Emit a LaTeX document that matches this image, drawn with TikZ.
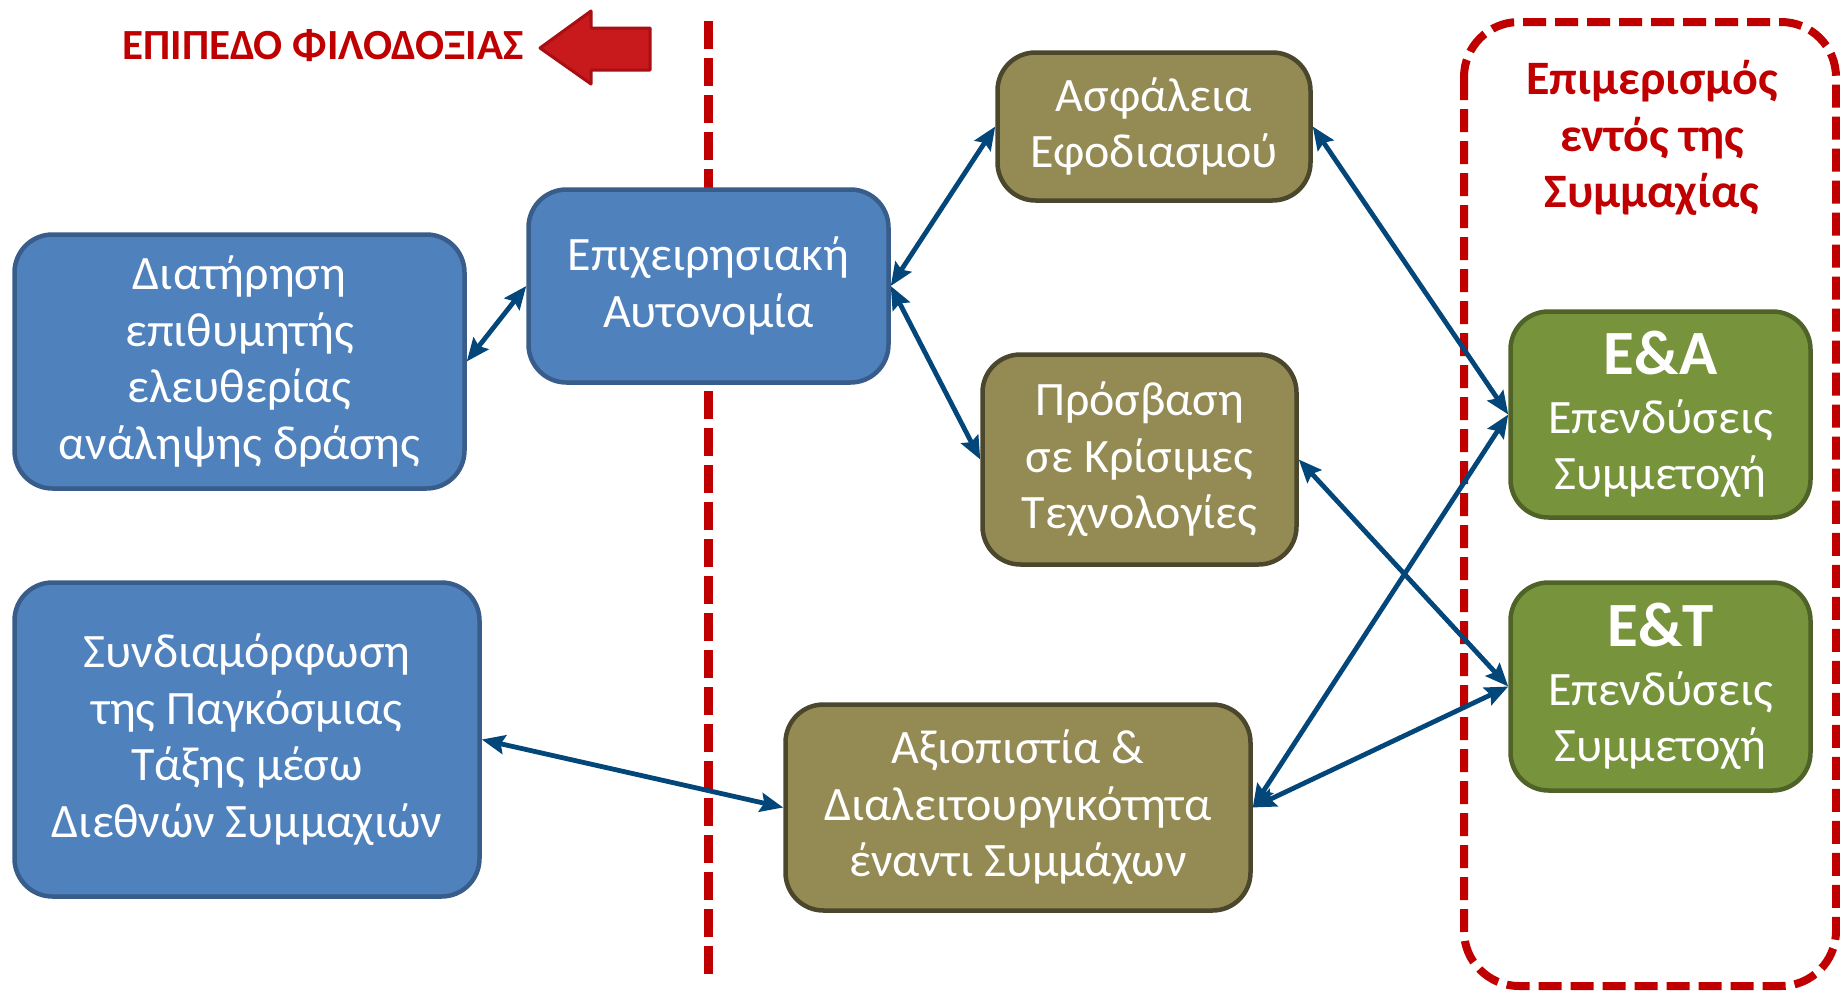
\documentclass[tikz,border=0pt]{standalone}
\usepackage{fontspec}
\setmainfont{Carlito}
\usetikzlibrary{arrows.meta}
\definecolor{bluefill}{HTML}{4F81BD}
\definecolor{blueline}{HTML}{385D8A}
\definecolor{olivefill}{HTML}{948A54}
\definecolor{oliveline}{HTML}{4B472D}
\definecolor{greenfill}{HTML}{77933C}
\definecolor{greenline}{HTML}{4F6228}
\definecolor{darkred}{HTML}{C00000}
\definecolor{arrowred}{HTML}{C8191C}
\definecolor{arrowredline}{HTML}{A80E12}
\definecolor{connblue}{HTML}{03467A}
\begin{document}
\begin{tikzpicture}[x=1pt,y=-1pt,
  box/.style={draw, line width=4.5pt, rounded corners=38pt, inner sep=0pt, align=center, text=white, font=\fontsize{48}{56.5}\selectfont},
  bluebox/.style={box, fill=bluefill, draw=blueline},
  olivebox/.style={box, fill=olivefill, draw=oliveline},
  greenbox/.style={box, fill=greenfill, draw=greenline},
  conn/.style={draw=connblue, line width=4.8pt, {Stealth[length=23pt,width=19pt,inset=3.5pt]}-{Stealth[length=23pt,width=19pt,inset=3.5pt]}},
  redtext/.style={text=darkred, font=\bfseries\fontsize{48}{56.5}\selectfont, align=center}
]
\useasboundingbox (0,0) rectangle (1840,991);
% vertical dashed divider
\coordinate (vtop) at (708,21);
\coordinate (vbot) at (708,974);
\draw[darkred, line width=9pt, dash pattern=on 28pt off 9pt] (vtop) -- (vbot);
% dashed allocation frame
\draw[darkred, line width=8pt, dash pattern=on 23pt off 9pt, rounded corners=55pt] (1464,22) rectangle (1836,986);
% title and arrow
\node[text=darkred, font=\bfseries\fontsize{43}{50}\selectfont] (title) at (323,46) {ΕΠΙΠΕΔΟ ΦΙΛΟΔΟΞΙΑΣ};
\draw[fill=arrowred, draw=arrowredline, line width=3pt, line join=round] (540,48) -- (591,11) -- (591,28) -- (650,28) -- (650,70) -- (591,70) -- (591,84) -- cycle;
\node[redtext] (alloc) at (1652,138) {Επιμερισμός\\εντός της\\Συμμαχίας};
% boxes
\node[bluebox, minimum width=450pt, minimum height=254pt] (A) at (239.5,361.5) {Διατήρηση\\επιθυμητής\\ελευθερίας\\ανάληψης δράσης};
\node[bluebox, minimum width=360pt, minimum height=193pt] (B) at (708.5,286) {Επιχειρησιακή\\Αυτονομία};
\node[bluebox, minimum width=465pt, minimum height=314pt] (C) at (247,739.5) {Συνδιαμόρφωση\\της Παγκόσμιας\\Τάξης μέσω\\Διεθνών Συμμαχιών};
\node[olivebox, minimum width=313pt, minimum height=148pt] (D) at (1154,126.5) {Ασφάλεια\\Εφοδιασμού};
\node[olivebox, minimum width=314pt, minimum height=210pt] (E) at (1139.5,459.5) {Πρόσβαση\\σε Κρίσιμες\\Τεχνολογίες};
\node[olivebox, minimum width=465pt, minimum height=206pt] (F) at (1018,807.5) {Αξιοπιστία \&\\Διαλειτουργικότητα\\έναντι Συμμάχων};
\node[greenbox, minimum width=300pt, minimum height=206pt] (G) at (1660.5,414.5) {{\bfseries\fontsize{63}{60}\selectfont Ε\&Α}\\[2pt]Επενδύσεις\\Συμμετοχή};
\node[greenbox, minimum width=300pt, minimum height=208pt] (H) at (1660.5,686.5) {{\bfseries\fontsize{63}{60}\selectfont Ε\&Τ}\\[2pt]Επενδύσεις\\Συμμετοχή};
% connectors
\draw[conn] (A.east) -- (B.west);
\draw[conn] (B.east) -- (D.west);
\draw[conn] (B.east) -- (E.west);
\draw[conn] (D.east) -- (G.west);
\draw[conn] (E.east) -- (H.west);
\draw[conn] (F.east) -- (G.west);
\draw[conn] (F.east) -- (H.west);
\draw[conn] (C.east) -- (F.west);
\end{tikzpicture}
\end{document}
